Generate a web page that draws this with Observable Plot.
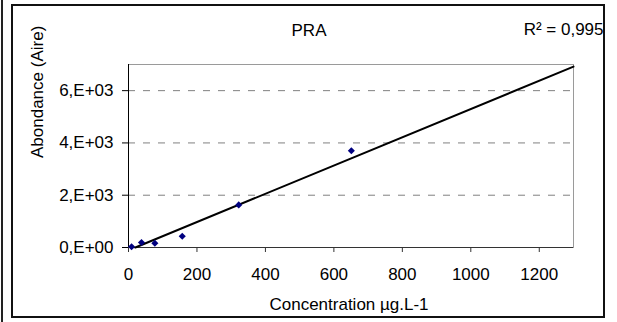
<!DOCTYPE html>
<html><head><meta charset="utf-8">
<script src="https://cdn.jsdelivr.net/npm/d3@7"></script>
<script src="https://cdn.jsdelivr.net/npm/@observablehq/plot@0.6"></script>
<style>body{margin:0;background:#fff;} svg{display:block;}</style>
</head><body><div id="chart"></div>
<script>
const concentration = [9, 38, 77, 157, 322, 651];
const abondance = [30, 190, 165, 430, 1630, 3700];
const trendX = [20, 1300];
const trendY = [0, 6920];
const xTicks = [0, 200, 400, 600, 800, 1000, 1200];
const yTicks = [0, 2000, 4000, 6000];
const yTickLabels = ["0,E+00", "2,E+03", "4,E+03", "6,E+03"];
const gridTicks = [2000, 4000, 6000];
const title = "PRA";
const r2Label = "R² = 0,995";
const xLabel = "Concentration µg.L-1";
const yLabel = "Abondance (Aire)";

const points = concentration.map((c, i) => ({c, a: abondance[i]}));
const trend = trendX.map((x, i) => ({x, y: trendY[i]}));
const font = "'Liberation Sans', Arial, sans-serif";

const chart = Plot.plot({
  width: 617, height: 322,
  marginLeft: 128, marginRight: 44, marginTop: 64, marginBottom: 75,
  style: {fontFamily: font, fontSize: "17px", background: "#fff", color: "#000", overflow: "visible"},
  x: {domain: [0, 1300]},
  y: {domain: [0, 7000]},
  marks: [
    Plot.ruleY(gridTicks, {stroke: "#808080", strokeDasharray: "7,8", strokeWidth: 1}),
    Plot.frame({stroke: "#9a9a9a"}),
    Plot.ruleX([0], {stroke: "#000"}),
    Plot.ruleY([0], {stroke: "#333"}),
    Plot.axisX(xTicks, {tickSize: 5, tickPadding: 15, label: null, stroke: "#333", tickFormat: d => `${d}`}),
    Plot.axisY(yTicks, {tickSize: 6, tickPadding: 9, label: null,
      tickFormat: d => yTickLabels[yTicks.indexOf(d)]}),
    Plot.line(trend, {x: "x", y: "y", stroke: "#000", strokeWidth: 2}),
    Plot.dot(points, {x: "c", y: "a", symbol: "diamond2", r: 3.2, fill: "#000080", stroke: "none"}),
    Plot.text([title], {text: d => d, frameAnchor: "top", dx: -42, dy: -34, lineAnchor: "middle"}),
    Plot.text([r2Label], {text: d => d, frameAnchor: "top-right", textAnchor: "end", dx: 30, dy: -35, lineAnchor: "middle"}),
    Plot.text([xLabel], {text: d => d, frameAnchor: "bottom", dx: -2, dy: 57, lineAnchor: "middle"}),
    Plot.text([yLabel], {text: d => d, frameAnchor: "left", rotate: -90, dx: -91, dy: 2, lineAnchor: "middle"})
  ]
});

const svg = d3.select(chart);
svg.append("rect").attr("x", 12).attr("y", 5).attr("width", 592).attr("height", 312)
  .attr("fill", "none").attr("stroke", "#111").attr("stroke-width", 2);
svg.append("line").attr("x1", 2).attr("x2", 2).attr("y1", 0).attr("y2", 322)
  .attr("stroke", "#222").attr("stroke-width", 2);
document.getElementById("chart").appendChild(chart);
</script>
</body></html>
